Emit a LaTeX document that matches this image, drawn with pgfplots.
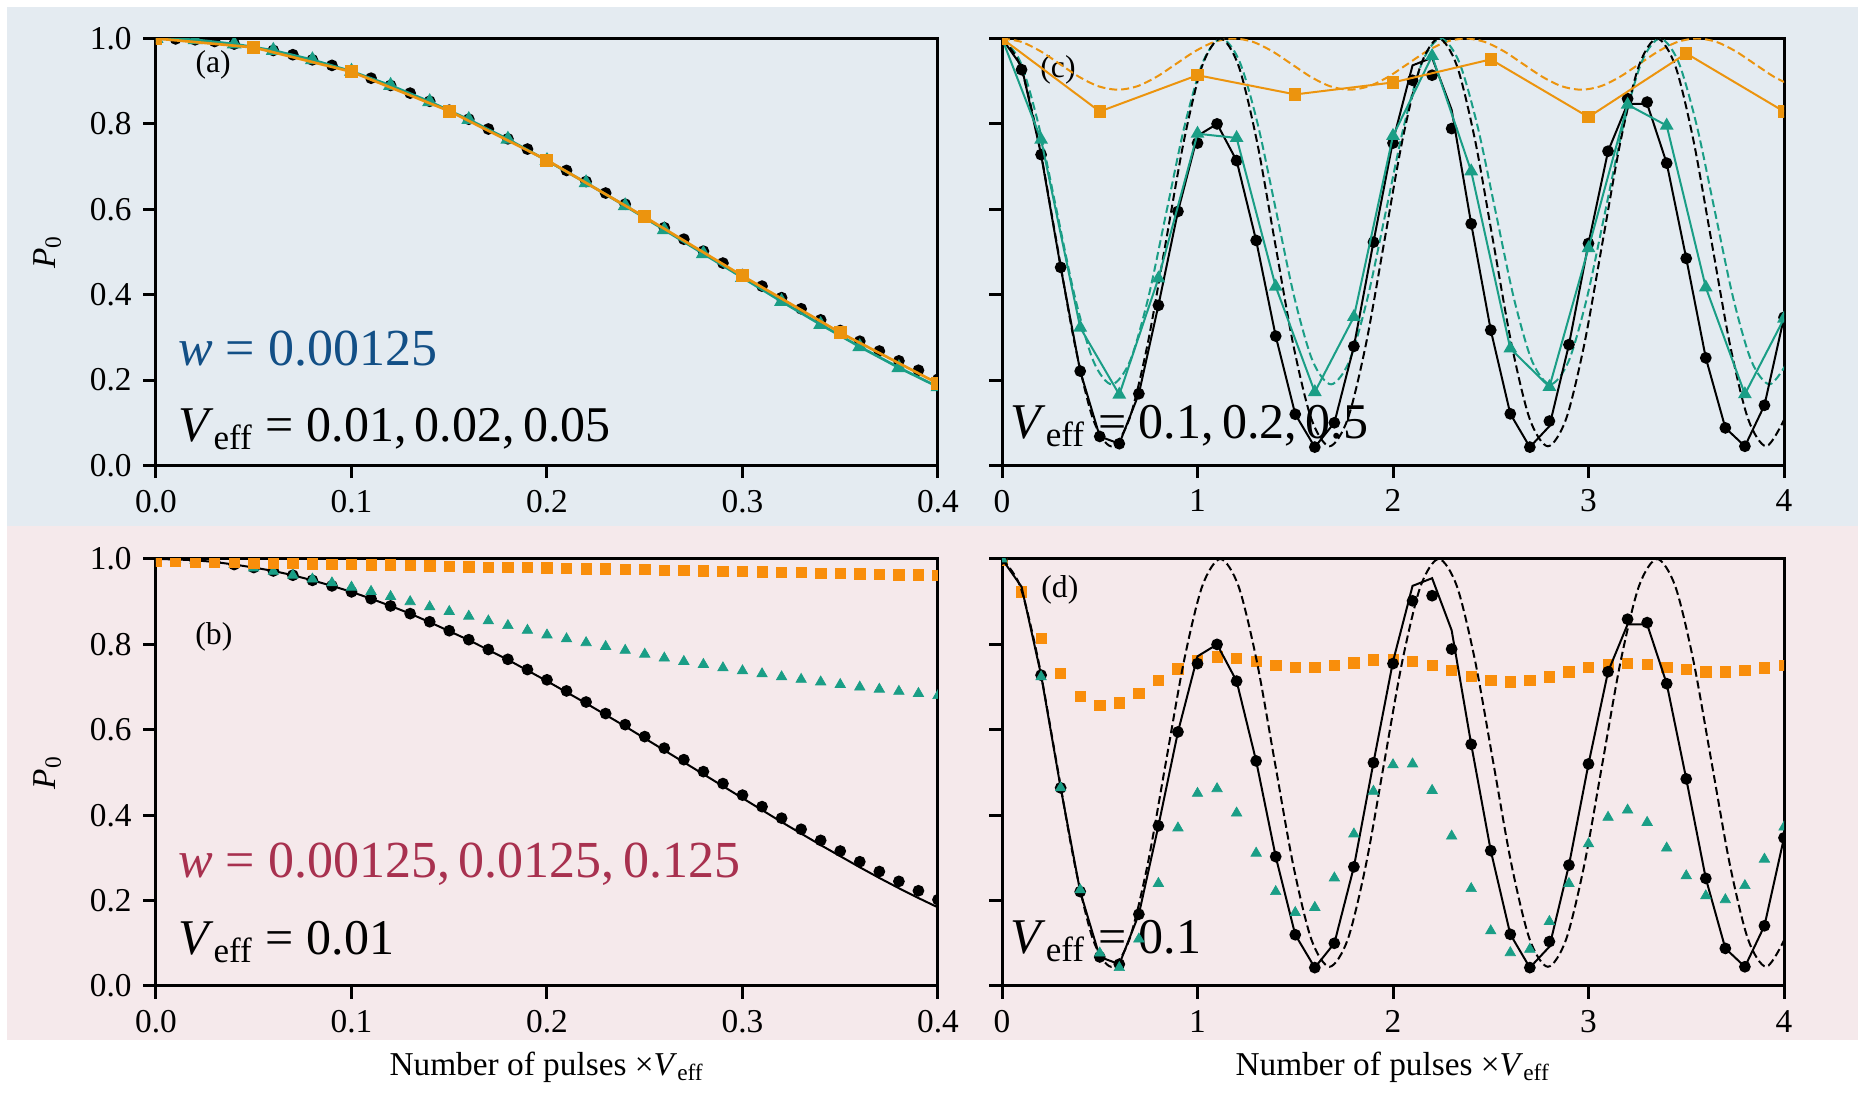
\documentclass[border=0pt]{standalone}
\usepackage{fontspec}
\setmainfont{Liberation Serif}
\usepackage{pgfplots}
\pgfplotsset{compat=1.18}

\definecolor{bandblue}{HTML}{E4EBF1}
\definecolor{bandpink}{HTML}{F5E9EB}
\definecolor{cteal}{HTML}{1A9E86}
\definecolor{corange}{HTML}{EC940E}
\definecolor{corangeb}{HTML}{F98E0B}
\definecolor{txtblue}{HTML}{124F86}
\definecolor{txtpink}{HTML}{A8314F}

\newcommand{\Veff}{\textit{V}\textsubscript{eff}}

\pgfplotsset{
  panel/.style={
    scale only axis, width=234.6pt, height=128.1pt, anchor=south west,
    ymin=0, ymax=1, ytick={0,0.2,0.4,0.6,0.8,1},
    yticklabel style={/pgf/number format/.cd, fixed, fixed zerofill, precision=1},
    tick align=outside, xtick pos=left, ytick pos=left,
    major tick length=3.8pt,
    every tick/.style={black, line width=0.9pt},
    axis line style={line width=0.9pt},
    tick label style={font=\fontsize{10}{12}\selectfont},
    label style={font=\fontsize{10}{12}\selectfont},
    /pgf/number format/assume math mode=true,
    clip marker paths=true,
    every axis plot/.append style={line width=0.6pt},
    ylabel={\textit{P}\textsubscript{0}},
    ylabel style={at={(rel axis cs:-0.1385,0.5)}, anchor=center},
    xlabel style={at={(rel axis cs:0.5,-0.19)}, anchor=center},
  },
  small/.style={xmin=0, xmax=0.4, xtick={0,0.1,0.2,0.3,0.4},
    xticklabel style={/pgf/number format/.cd, fixed, fixed zerofill, precision=1}},
  large/.style={xmin=0, xmax=4, xtick={0,1,2,3,4}, yticklabels={}, ylabel={}},
  dot/.style={draw=none, mark=*, mark size=1.45pt, mark options={fill=black, draw=black}},
  tri/.style={draw=none, mark=triangle*, mark size=1.8pt, mark options={fill=cteal, draw=cteal, line width=0.2pt}},
  sqr/.style={draw=none, mark=square*, mark size=1.55pt, mark options={fill=#1, draw=#1, line width=0.2pt}},
  dash/.style={#1, dash pattern=on 2.4pt off 1.2pt, smooth, no marks},
}

\newcommand{\bigfont}{\fontsize{15}{18}\selectfont}
\newcommand{\wfont}{\fontsize{15.6}{18}\selectfont}
\newcommand{\lblfont}{\fontsize{9.5}{11}\selectfont}

\begin{document}
\begin{tikzpicture}
\useasboundingbox (0,0) rectangle (559.5pt,328.5pt);
\fill[bandblue] (2.1pt,170.7pt) rectangle (557.4pt,326.4pt);
\fill[bandpink] (2.1pt,16.5pt) rectangle (557.4pt,170.7pt);

% (a)
\begin{axis}[panel, small, at={(46.8pt,188.85pt)}]
\node[font=\lblfont] at (rel axis cs:0.073,0.937) {(a)};
\node[anchor=base west, inner sep=0, font=\wfont, text=txtblue] at (rel axis cs:0.0276,0.234) {\textit{w} = 0.00125};
\node[anchor=base west, inner sep=0, font=\bigfont] at (rel axis cs:0.0276,0.057) {\Veff{} = 0.01,\,0.02,\,0.05};
\addplot[dot] coordinates {
(0,1.000) (0.01,0.999) (0.02,0.997) (0.03,0.993) (0.04,0.987) (0.05,0.980) (0.06,0.972) (0.07,0.962) (0.08,0.950) (0.09,0.937)
(0.10,0.923) (0.11,0.907) (0.12,0.890) (0.13,0.872) (0.14,0.853) (0.15,0.832) (0.16,0.811) (0.17,0.788) (0.18,0.765) (0.19,0.741)
(0.20,0.717) (0.21,0.691) (0.22,0.665) (0.23,0.638) (0.24,0.612) (0.25,0.584) (0.26,0.557) (0.27,0.530) (0.28,0.502) (0.29,0.474)
(0.30,0.447) (0.31,0.420) (0.32,0.393) (0.33,0.367) (0.34,0.341) (0.35,0.316) (0.36,0.291) (0.37,0.268) (0.38,0.245) (0.39,0.223) (0.40,0.202)};
\addplot[cteal, line width=0.8pt, mark=triangle*, mark size=1.8pt, mark options={fill=cteal}] coordinates {
(0,1.000) (0.02,0.997) (0.04,0.987) (0.06,0.972) (0.08,0.950) (0.10,0.923) (0.12,0.890) (0.14,0.852) (0.16,0.810) (0.18,0.764)
(0.20,0.714) (0.22,0.662) (0.24,0.608) (0.26,0.552) (0.28,0.496) (0.30,0.440) (0.32,0.384) (0.34,0.330) (0.36,0.278) (0.38,0.229) (0.40,0.184)};
\addplot[corange, line width=0.8pt, mark=square*, mark size=1.55pt, mark options={fill=corange}] coordinates {
(0,1.000) (0.05,0.979) (0.10,0.922) (0.15,0.830) (0.20,0.715) (0.25,0.582) (0.30,0.444) (0.35,0.311) (0.40,0.192)};
\end{axis}

% (c)
\begin{axis}[panel, large, at={(300.6pt,188.85pt)}]
\node[font=\lblfont] at (rel axis cs:0.0716,0.927) {(c)};
\node[anchor=base west, inner sep=0, font=\bigfont] at (rel axis cs:0.010,0.063) {\Veff{} = 0.1,\,0.2,\,0.5};
\addplot[dash=corange] coordinates {
(0,1.0) (0.0988,0.992) (0.1975,0.97) (0.2963,0.94) (0.395,0.91) (0.4938,0.888) (0.5925,0.88) (0.6913,0.888) (0.79,0.91) (0.8888,0.94)
(0.9875,0.97) (1.0863,0.992) (1.185,1.0) (1.2838,0.992) (1.3825,0.97) (1.4813,0.94) (1.58,0.91) (1.6788,0.888) (1.7775,0.88) (1.8763,0.888)
(1.975,0.91) (2.0738,0.94) (2.1725,0.97) (2.2713,0.992) (2.37,1.0) (2.4688,0.992) (2.5675,0.97) (2.6663,0.94) (2.765,0.91) (2.8638,0.888)
(2.9625,0.88) (3.0613,0.888) (3.16,0.91) (3.2588,0.94) (3.3575,0.97) (3.4563,0.992) (3.555,1.0) (3.6538,0.992) (3.7525,0.97) (3.8513,0.94)
(3.95,0.91) (4.0488,0.888)};
\addplot[dash=cteal] coordinates {
(0,1.0) (0.0935,0.9457) (0.187,0.7975) (0.2805,0.595) (0.374,0.3925) (0.4675,0.2443) (0.561,0.19) (0.6545,0.2443) (0.748,0.3925) (0.8415,0.595)
(0.935,0.7975) (1.0285,0.9457) (1.122,1.0) (1.2155,0.9457) (1.309,0.7975) (1.4025,0.595) (1.496,0.3925) (1.5895,0.2443) (1.683,0.19) (1.7765,0.2443)
(1.87,0.3925) (1.9635,0.595) (2.057,0.7975) (2.1505,0.9457) (2.244,1.0) (2.3375,0.9457) (2.431,0.7975) (2.5245,0.595) (2.618,0.3925) (2.7115,0.2443)
(2.805,0.19) (2.8985,0.2443) (2.992,0.3925) (3.0855,0.595) (3.179,0.7975) (3.2725,0.9457) (3.366,1.0) (3.4595,0.9457) (3.553,0.7975) (3.6465,0.595)
(3.74,0.3925) (3.8335,0.2443) (3.927,0.19) (4.0205,0.2443)};
\addplot[dash=black] coordinates {
(0,1.0) (0.0931,0.936) (0.1862,0.761) (0.2792,0.5225) (0.3723,0.284) (0.4654,0.109) (0.5585,0.045) (0.6516,0.109) (0.7446,0.284) (0.8377,0.5225)
(0.9308,0.761) (1.0239,0.936) (1.1170,1.0) (1.2100,0.936) (1.3031,0.761) (1.3962,0.5225) (1.4893,0.284) (1.5824,0.109) (1.6754,0.045) (1.7685,0.109)
(1.8616,0.284) (1.9547,0.5225) (2.0478,0.761) (2.1408,0.936) (2.2339,1.0) (2.3270,0.936) (2.4201,0.761) (2.5132,0.5225) (2.6062,0.284) (2.6993,0.109)
(2.7924,0.045) (2.8855,0.109) (2.9786,0.284) (3.0716,0.5225) (3.1647,0.761) (3.2578,0.936) (3.3509,1.0) (3.4440,0.936) (3.5370,0.761) (3.6301,0.5225)
(3.7232,0.284) (3.8163,0.109) (3.9094,0.045) (4.0024,0.109)};
\addplot[black, no marks] coordinates {
(0,1.0) (0.1,0.935) (0.2,0.728) (0.3,0.464) (0.4,0.221) (0.5,0.068) (0.6,0.051) (0.7,0.168) (0.8,0.375) (0.9,0.595)
(1.0,0.772) (1.1,0.800) (1.2,0.714) (1.3,0.527) (1.4,0.303) (1.5,0.120) (1.6,0.043) (1.7,0.100) (1.8,0.279) (1.9,0.523)
(2.0,0.760) (2.1,0.937) (2.2,0.955) (2.3,0.833) (2.4,0.566) (2.5,0.317) (2.6,0.121) (2.7,0.043) (2.8,0.092) (2.9,0.283)
(3.0,0.520) (3.1,0.736) (3.2,0.847) (3.3,0.847) (3.4,0.708) (3.5,0.485) (3.6,0.252) (3.7,0.088) (3.8,0.045) (3.9,0.141) (4.0,0.347)};
\addplot[dot] coordinates {
(0,1.0) (0.1,0.927) (0.2,0.728) (0.3,0.464) (0.4,0.221) (0.5,0.068) (0.6,0.051) (0.7,0.168) (0.8,0.375) (0.9,0.595)
(1.0,0.755) (1.1,0.800) (1.2,0.714) (1.3,0.527) (1.4,0.303) (1.5,0.120) (1.6,0.043) (1.7,0.100) (1.8,0.279) (1.9,0.523)
(2.0,0.755) (2.1,0.902) (2.2,0.914) (2.3,0.789) (2.4,0.566) (2.5,0.317) (2.6,0.121) (2.7,0.043) (2.8,0.104) (2.9,0.283)
(3.0,0.520) (3.1,0.736) (3.2,0.859) (3.3,0.851) (3.4,0.708) (3.5,0.485) (3.6,0.252) (3.7,0.088) (3.8,0.045) (3.9,0.141) (4.0,0.347)};
\addplot[cteal, mark=triangle*, mark size=1.8pt, mark options={fill=cteal}] coordinates {
(0,1.0) (0.2,0.763) (0.4,0.323) (0.6,0.166) (0.8,0.438) (1.0,0.777) (1.2,0.767) (1.4,0.419) (1.6,0.172) (1.8,0.348)
(2.0,0.772) (2.2,0.959) (2.4,0.689) (2.6,0.274) (2.8,0.184) (3.0,0.509) (3.2,0.845) (3.4,0.796) (3.6,0.417) (3.8,0.167) (4.0,0.344)};
\addplot[corange, mark=square*, mark size=1.55pt, mark options={fill=corange}] coordinates {
(0,1.0) (0.5,0.829) (1.0,0.914) (1.5,0.869) (2.0,0.897) (2.5,0.951) (3.0,0.816) (3.5,0.965) (4.0,0.829)};
\end{axis}

% (b)
\begin{axis}[panel, small, at={(46.8pt,32.7pt)}, xlabel={Number of pulses ×\Veff}]
\node[font=\lblfont] at (rel axis cs:0.074,0.817) {(b)};
\node[anchor=base west, inner sep=0, font=\wfont, text=txtpink] at (rel axis cs:0.0276,0.254) {\textit{w} = 0.00125,\,0.0125,\,0.125};
\node[anchor=base west, inner sep=0, font=\bigfont] at (rel axis cs:0.0276,0.074) {\Veff{} = 0.01};
\addplot[black, no marks] coordinates {
(0,1.000) (0.01,0.999) (0.02,0.997) (0.03,0.993) (0.04,0.987) (0.05,0.980) (0.06,0.972) (0.07,0.962) (0.08,0.950) (0.09,0.937)
(0.10,0.923) (0.11,0.907) (0.12,0.890) (0.13,0.872) (0.14,0.852) (0.15,0.831) (0.16,0.810) (0.17,0.787) (0.18,0.764) (0.19,0.739)
(0.20,0.714) (0.21,0.688) (0.22,0.662) (0.23,0.635) (0.24,0.608) (0.25,0.580) (0.26,0.552) (0.27,0.524) (0.28,0.496) (0.29,0.468)
(0.30,0.440) (0.31,0.412) (0.32,0.384) (0.33,0.357) (0.34,0.330) (0.35,0.304) (0.36,0.278) (0.37,0.253) (0.38,0.229) (0.39,0.206) (0.40,0.184)};
\addplot[dot] coordinates {
(0,1.000) (0.01,0.999) (0.02,0.997) (0.03,0.993) (0.04,0.987) (0.05,0.980) (0.06,0.972) (0.07,0.962) (0.08,0.950) (0.09,0.937)
(0.10,0.923) (0.11,0.907) (0.12,0.890) (0.13,0.872) (0.14,0.853) (0.15,0.832) (0.16,0.811) (0.17,0.788) (0.18,0.765) (0.19,0.741)
(0.20,0.717) (0.21,0.691) (0.22,0.665) (0.23,0.638) (0.24,0.612) (0.25,0.584) (0.26,0.557) (0.27,0.530) (0.28,0.502) (0.29,0.474)
(0.30,0.447) (0.31,0.420) (0.32,0.393) (0.33,0.367) (0.34,0.341) (0.35,0.316) (0.36,0.291) (0.37,0.268) (0.38,0.245) (0.39,0.223) (0.40,0.202)};
\addplot[tri] coordinates {
(0,1.000) (0.01,0.999) (0.02,0.997) (0.03,0.993) (0.04,0.987) (0.05,0.979) (0.06,0.971) (0.07,0.962) (0.08,0.953) (0.09,0.944)
(0.10,0.934) (0.11,0.924) (0.12,0.912) (0.13,0.900) (0.14,0.888) (0.15,0.877) (0.16,0.866) (0.17,0.855) (0.18,0.844) (0.19,0.833)
(0.20,0.822) (0.21,0.813) (0.22,0.804) (0.23,0.795) (0.24,0.786) (0.25,0.777) (0.26,0.768) (0.27,0.760) (0.28,0.753) (0.29,0.745)
(0.30,0.738) (0.31,0.731) (0.32,0.724) (0.33,0.718) (0.34,0.712) (0.35,0.706) (0.36,0.700) (0.37,0.695) (0.38,0.690) (0.39,0.685) (0.40,0.680)};
\addplot[sqr=corangeb] coordinates {
(0,0.995) (0.01,0.994) (0.02,0.993) (0.03,0.993) (0.04,0.992) (0.05,0.991) (0.06,0.990) (0.07,0.990) (0.08,0.989) (0.09,0.988)
(0.10,0.987) (0.11,0.986) (0.12,0.986) (0.13,0.985) (0.14,0.984) (0.15,0.983) (0.16,0.982) (0.17,0.981) (0.18,0.981) (0.19,0.980)
(0.20,0.979) (0.21,0.978) (0.22,0.977) (0.23,0.977) (0.24,0.976) (0.25,0.975) (0.26,0.974) (0.27,0.973) (0.28,0.972) (0.29,0.971)
(0.30,0.971) (0.31,0.970) (0.32,0.969) (0.33,0.968) (0.34,0.967) (0.35,0.966) (0.36,0.965) (0.37,0.964) (0.38,0.963) (0.39,0.963) (0.40,0.962)};
\end{axis}

% (d)
\begin{axis}[panel, large, at={(300.6pt,32.7pt)}, xlabel={Number of pulses ×\Veff}]
\node[font=\lblfont] at (rel axis cs:0.074,0.927) {(d)};
\node[anchor=base west, inner sep=0, font=\bigfont] at (rel axis cs:0.010,0.077) {\Veff{} = 0.1};
\addplot[sqr=corangeb] coordinates {
(0,0.998) (0.1,0.923) (0.2,0.814) (0.3,0.732) (0.4,0.678) (0.5,0.657) (0.6,0.663) (0.7,0.686) (0.8,0.716) (0.9,0.743)
(1.0,0.762) (1.1,0.771) (1.2,0.768) (1.3,0.761) (1.4,0.751) (1.5,0.746) (1.6,0.746) (1.7,0.751) (1.8,0.757) (1.9,0.764)
(2.0,0.765) (2.1,0.761) (2.2,0.751) (2.3,0.739) (2.4,0.725) (2.5,0.716) (2.6,0.712) (2.7,0.716) (2.8,0.724) (2.9,0.736)
(3.0,0.746) (3.1,0.754) (3.2,0.755) (3.3,0.753) (3.4,0.747) (3.5,0.741) (3.6,0.736) (3.7,0.736) (3.8,0.739) (3.9,0.745) (4.0,0.751)};
\addplot[dash=black] coordinates {
(0,1.0) (0.0931,0.936) (0.1862,0.761) (0.2792,0.5225) (0.3723,0.284) (0.4654,0.109) (0.5585,0.045) (0.6516,0.109) (0.7446,0.284) (0.8377,0.5225)
(0.9308,0.761) (1.0239,0.936) (1.1170,1.0) (1.2100,0.936) (1.3031,0.761) (1.3962,0.5225) (1.4893,0.284) (1.5824,0.109) (1.6754,0.045) (1.7685,0.109)
(1.8616,0.284) (1.9547,0.5225) (2.0478,0.761) (2.1408,0.936) (2.2339,1.0) (2.3270,0.936) (2.4201,0.761) (2.5132,0.5225) (2.6062,0.284) (2.6993,0.109)
(2.7924,0.045) (2.8855,0.109) (2.9786,0.284) (3.0716,0.5225) (3.1647,0.761) (3.2578,0.936) (3.3509,1.0) (3.4440,0.936) (3.5370,0.761) (3.6301,0.5225)
(3.7232,0.284) (3.8163,0.109) (3.9094,0.045) (4.0024,0.109)};
\addplot[black, no marks] coordinates {
(0,1.0) (0.1,0.935) (0.2,0.728) (0.3,0.464) (0.4,0.221) (0.5,0.068) (0.6,0.051) (0.7,0.168) (0.8,0.375) (0.9,0.595)
(1.0,0.772) (1.1,0.800) (1.2,0.714) (1.3,0.527) (1.4,0.303) (1.5,0.120) (1.6,0.043) (1.7,0.100) (1.8,0.279) (1.9,0.523)
(2.0,0.760) (2.1,0.937) (2.2,0.955) (2.3,0.833) (2.4,0.566) (2.5,0.317) (2.6,0.121) (2.7,0.043) (2.8,0.092) (2.9,0.283)
(3.0,0.520) (3.1,0.736) (3.2,0.847) (3.3,0.847) (3.4,0.708) (3.5,0.485) (3.6,0.252) (3.7,0.088) (3.8,0.045) (3.9,0.141) (4.0,0.347)};
\addplot[dot] coordinates {
(0,1.0) (0.2,0.728) (0.3,0.464) (0.4,0.221) (0.5,0.068) (0.6,0.051) (0.7,0.168) (0.8,0.375) (0.9,0.595)
(1.0,0.755) (1.1,0.800) (1.2,0.714) (1.3,0.527) (1.4,0.303) (1.5,0.120) (1.6,0.043) (1.7,0.100) (1.8,0.279) (1.9,0.523)
(2.0,0.755) (2.1,0.902) (2.2,0.914) (2.3,0.789) (2.4,0.566) (2.5,0.317) (2.6,0.121) (2.7,0.043) (2.8,0.104) (2.9,0.283)
(3.0,0.520) (3.1,0.736) (3.2,0.859) (3.3,0.851) (3.4,0.708) (3.5,0.485) (3.6,0.252) (3.7,0.088) (3.8,0.045) (3.9,0.141) (4.0,0.347)};
\addplot[tri] coordinates {
(0,1.0) (0.2,0.724) (0.3,0.464) (0.4,0.225) (0.5,0.077) (0.6,0.043) (0.7,0.110) (0.8,0.240) (0.9,0.370)
(1.0,0.451) (1.1,0.462) (1.2,0.405) (1.3,0.311) (1.4,0.221) (1.5,0.172) (1.6,0.184) (1.7,0.253) (1.8,0.356) (1.9,0.456)
(2.0,0.518) (2.1,0.520) (2.2,0.458) (2.3,0.351) (2.4,0.228) (2.5,0.129) (2.6,0.078) (2.7,0.086) (2.8,0.151) (2.9,0.240)
(3.0,0.333) (3.1,0.395) (3.2,0.412) (3.3,0.383) (3.4,0.323) (3.5,0.258) (3.6,0.211) (3.7,0.202) (3.8,0.235) (3.9,0.297) (4.0,0.372)};
\end{axis}
\end{tikzpicture}
\end{document}
